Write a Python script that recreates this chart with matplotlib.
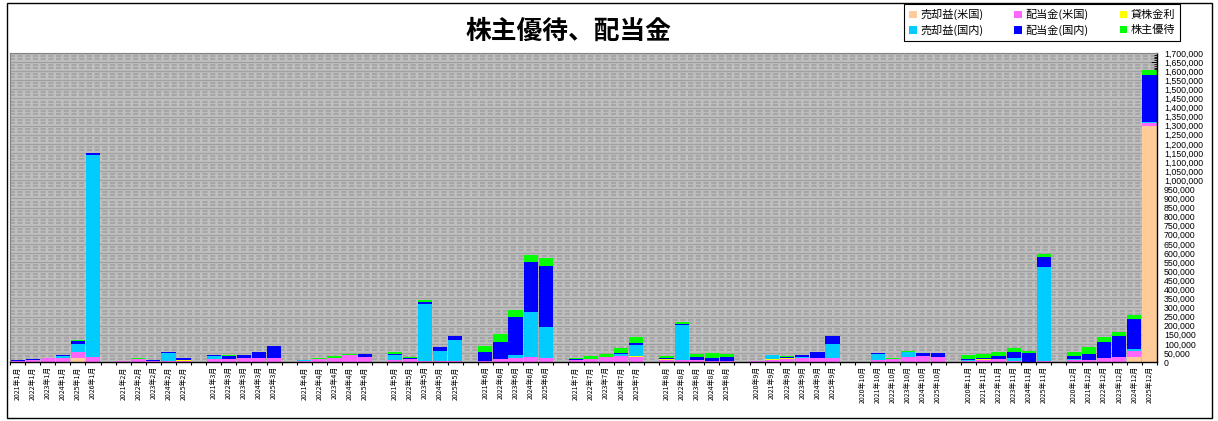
import numpy as np
import matplotlib
matplotlib.use('Agg')
import matplotlib.pyplot as plt
import matplotlib.patches as patches
import matplotlib.ticker as ticker

plt.rcParams['font.family'] = ['Noto Sans CJK JP', 'DejaVu Sans']

# years shown for each month (one group per month)
group_years = [
    [2021, 2022, 2023, 2024, 2025, 2026],  # 1
    [2021, 2022, 2023, 2024, 2025],        # 2
    [2021, 2022, 2023, 2024, 2025],        # 3
    [2021, 2022, 2023, 2024, 2025],        # 4
    [2021, 2022, 2023, 2024, 2025],        # 5
    [2021, 2022, 2023, 2024, 2025],        # 6
    [2021, 2022, 2023, 2024, 2025],        # 7
    [2021, 2022, 2023, 2024, 2025],        # 8
    [2020, 2021, 2022, 2023, 2024, 2025],  # 9
    [2020, 2021, 2022, 2023, 2024, 2025],  # 10
    [2020, 2021, 2022, 2023, 2024, 2025],  # 11
    [2020, 2021, 2022, 2023, 2024, 2025],  # 12
]

series_names = ['売却益(米国)', '配当金(米国)', '貸株金利', '売却益(国内)', '配当金(国内)', '株主優待']
series_colors = ['#FFCC99', '#FF66FF', '#FFFF00', '#00CCFF', '#0000FF', '#00FF00']

# one line per month group
us_gain = [0, 0, 0, 0, 22000, 0,
           0, 0, 0, 0, 0,
           0, 0, 0, 0, 0,
           0, 0, 0, 0, 0,
           0, 0, 0, 0, 0,
           0, 0, 0, 0, 0,
           0, 0, 0, 0, 0,
           0, 0, 0, 0, 0,
           0, 0, 0, 0, 0, 0,
           0, 0, 0, 0, 0, 0,
           0, 0, 0, 0, 0, 0,
           0, 0, 0, 0, 26000, 1296000]
us_div = [5000, 11000, 24000, 22000, 31000, 26000,
          3000, 16000, 5000, 3000, 4000,
          18000, 15000, 22000, 22000, 22000,
          6000, 15000, 22000, 37000, 26000,
          9000, 18000, 4000, 4000, 4000,
          4000, 15000, 21000, 26000, 20000,
          9000, 15000, 26000, 35000, 28000,
          11000, 13000, 11000, 4000, 4000,
          3000, 11000, 16000, 22000, 22000, 22000,
          0, 11000, 15000, 26000, 33000, 26000,
          4000, 13000, 15000, 4000, 2000, 4000,
          9000, 9000, 22000, 28000, 33000, 18000]
lending = [0, 0, 0, 0, 0, 0,
           0, 0, 0, 0, 5000,
           0, 0, 0, 0, 0,
           0, 0, 0, 0, 0,
           0, 0, 0, 0, 0,
           3000, 0, 0, 0, 0,
           0, 0, 0, 0, 5000,
           4000, 0, 0, 0, 0,
           0, 4000, 5000, 0, 0, 0,
           0, 0, 0, 0, 0, 0,
           0, 5000, 0, 0, 0, 0,
           0, 0, 0, 0, 0, 0]
jp_gain = [0, 0, 0, 11000, 46000, 1114000,
           0, 0, 0, 46000, 0,
           15000, 0, 0, 0, 0,
           6000, 0, 0, 0, 0,
           30000, 0, 313000, 55000, 115000,
           0, 0, 15000, 248000, 171000,
           0, 0, 0, 7000, 59000,
           0, 189000, 0, 0, 0,
           0, 22000, 0, 4000, 0, 75000,
           0, 33000, 0, 31000, 0, 0,
           7000, 0, 0, 18000, 0, 518000,
           9000, 0, 0, 0, 13000, 9000]
jp_div = [5000, 4000, 0, 5500, 15000, 9000,
          0, 0, 4000, 5000, 12000,
          5000, 18000, 17000, 33000, 66000,
          0, 0, 0, 0, 16000,
          5000, 6000, 11000, 22000, 22000,
          48000, 94000, 209000, 275000, 336000,
          7000, 0, 0, 7000, 11000,
          5000, 9000, 15000, 17000, 22000,
          0, 0, 5000, 11000, 33000, 46000,
          0, 4000, 0, 0, 15000, 22000,
          6000, 6000, 18000, 31000, 48000, 55000,
          13000, 33000, 88000, 116000, 164000, 255000]
yutai = [0, 0, 0, 0, 7000, 0,
         4000, 5000, 0, 0, 0,
         0, 5000, 0, 0, 0,
         0, 5000, 13000, 7000, 4000,
         9000, 2000, 11000, 0, 0,
         33000, 44000, 39000, 37000, 44000,
         5000, 18000, 18000, 28000, 33000,
         11000, 7000, 20000, 26000, 20000,
         0, 0, 6000, 0, 0, 0,
         0, 0, 7000, 2000, 0, 0,
         20000, 20000, 20000, 22000, 9000, 18000,
         22000, 39000, 28000, 22000, 22000, 31000]

series = [us_gain, us_div, lending, jp_gain, jp_div, yutai]

# positions: one empty slot between month groups
labels = []
xpos = []
slot = 0
for m, years in enumerate(group_years):
    for y in years:
        labels.append('%d年%d月' % (y, m + 1))
        xpos.append(slot)
        slot += 1
    slot += 1
nslots = slot - 1
xpos = np.array(xpos)

fig = plt.figure(figsize=(12.18, 4.21), dpi=100)
ax = fig.add_axes([10 / 1218, 59 / 421, 1147 / 1218, 309 / 421])
ax.set_facecolor('#c0c0c0')

ymax = 1700000
step = 50000
# excel-like patterned background
ax.hlines(np.arange(0, ymax + 1, step), -1, nslots + 1, color='#a0a0a0', lw=0.9, zorder=0)
for frac in (0.33, 0.66):
    ax.hlines(np.arange(0, ymax, step) + step * frac, -1, nslots + 1, color='#a6a6a6',
              lw=1.5, linestyles=(0, (2.5, 1.2)), zorder=0)

bottom = np.zeros(len(labels))
for name, vals, col in zip(series_names, series, series_colors):
    vals = np.array(vals, dtype=float)
    ax.bar(xpos, vals, width=0.94, bottom=bottom, color=col, label=name, zorder=2, linewidth=0)
    bottom += vals

ax.set_xlim(-0.5, nslots - 0.5)
ax.set_ylim(0, ymax)

ax.set_xticks(xpos)
ax.set_xticklabels(labels, rotation=90, fontsize=5)
ax.set_xticks(np.arange(-0.5, nslots, 1), minor=True)
ax.tick_params(axis='x', which='major', length=0, pad=3)
ax.tick_params(axis='x', which='minor', length=2.5, width=0.8, direction='out', color='black')

ax.yaxis.tick_right()
ax.yaxis.set_major_locator(ticker.MultipleLocator(step))
ax.yaxis.set_minor_locator(ticker.MultipleLocator(10000))
ax.yaxis.set_major_formatter(ticker.FuncFormatter(lambda v, p: '{:,.0f}'.format(v)))
ax.tick_params(axis='y', which='major', direction='in', length=4, width=0.7, pad=5, labelsize=6.3)
ax.tick_params(axis='y', which='minor', direction='in', length=2.5, width=0.6)
for lab in ax.get_yticklabels():
    lab.set_family('Liberation Sans')

for side in ('top', 'left'):
    ax.spines[side].set_color('#808080')
for side in ('bottom', 'right'):
    ax.spines[side].set_color('black')
    ax.spines[side].set_linewidth(1)

fig.text(568 / 1218, 1 - 31 / 421, '株主優待、配当金', ha='center', va='center',
         fontsize=18.5, fontweight='bold')

h, l = ax.get_legend_handles_labels()
order = [0, 3, 1, 4, 2, 5]
leg = fig.legend([h[i] for i in order], [l[i] for i in order], ncol=3,
                 loc='upper left', bbox_to_anchor=(904 / 1218, 1 - 4 / 421),
                 fontsize=8, handlelength=0.7, handleheight=0.7, handletextpad=0.3,
                 columnspacing=2.8, borderpad=0.45, labelspacing=0.4,
                 fancybox=False, framealpha=1, edgecolor='black', borderaxespad=0)
leg.get_frame().set_linewidth(0.8)

fig.add_artist(patches.Rectangle((7 / 1218, 3 / 421), 1205 / 1218, 415 / 421,
                                 transform=fig.transFigure, fill=False,
                                 edgecolor='black', linewidth=1))

fig.savefig('out.png', dpi=100)
